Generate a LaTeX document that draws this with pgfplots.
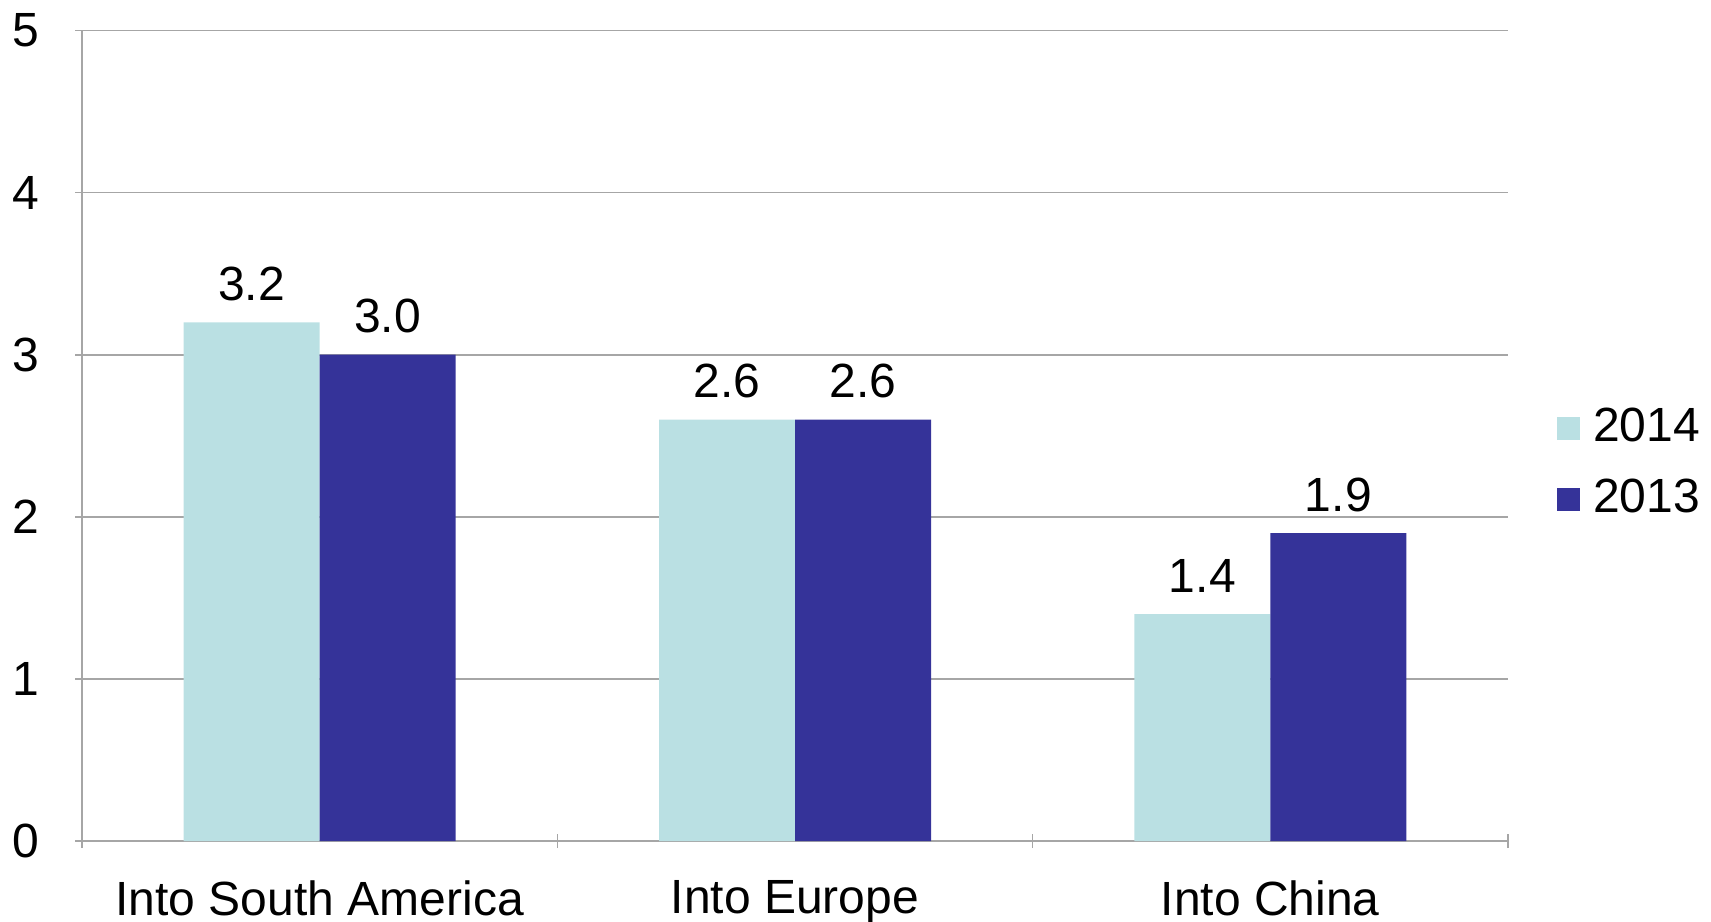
\documentclass[border=0pt]{standalone}
\usepackage{fontspec}
\setmainfont{Liberation Sans}
\usepackage{pgfplots}
\pgfplotsset{compat=1.18}
\definecolor{cLight}{HTML}{BAE0E3}
\definecolor{cDark}{HTML}{353399}
\definecolor{cGrid}{HTML}{A6A6A6}
\newcommand{\lblfont}{\fontsize{12}{14.4}\selectfont}
\begin{document}
\lblfont
\begin{tikzpicture}
\begin{axis}[
  at={(0,0)}, anchor=south west,
  scale only axis,
  width=356.5pt, height=202.7pt,
  ybar=0pt, bar width=34pt,
  xmin=-0.5, xmax=2.5,
  ymin=0, ymax=5,
  xtick={0,1,2},
  xticklabels={Into South America, Into Europe, Into China},
  ytick={0,1,2,3,4,5},
  minor xtick={-0.5,0.5,1.5,2.5},
  minor ytick={0,1,2,3,4,5},
  major tick length=0pt,
  minor tick length=3.5pt,
  tick align=outside,
  tick style={cGrid, line width=0.4pt},
  ymajorgrids,
  major grid style={cGrid, line width=0.4pt},
  minor grid style={draw=none},
  axis x line=bottom, axis y line=left,
  axis line style={-, cGrid, line width=0.4pt},
  /pgf/number format/assume math mode=true,
  ticklabel style={font=\lblfont},
  y tick label style={anchor=east, xshift=-6.5pt},
  x tick label style={anchor=north, yshift=-5.7pt},
  nodes near coords,
  nodes near coords style={font=\lblfont, black, yshift=1.2pt, /pgf/number format/fixed, /pgf/number format/fixed zerofill, /pgf/number format/precision=1, /pgf/number format/assume math mode=true},
  legend style={at={(1.034,0.465)}, anchor=west, draw=none, fill=none, font=\lblfont, row sep=3.5pt, inner sep=0pt, nodes={inner xsep=3.2pt}},
  legend cell align=left,
  legend image code/.code={\fill[#1] (0pt,-2.9pt) rectangle (5.8pt,2.9pt);},
  clip=false,
]
\addplot[fill=cLight, draw=none] coordinates {(0,3.2) (1,2.6) (2,1.4)};
\addplot[fill=cDark, draw=none] coordinates {(0,3.0) (1,2.6) (2,1.9)};
\legend{2014,2013}
\end{axis}
\pgfresetboundingbox
\useasboundingbox (-20.5pt,-20pt) rectangle (407.25pt,210.3pt);
\end{tikzpicture}
\end{document}
